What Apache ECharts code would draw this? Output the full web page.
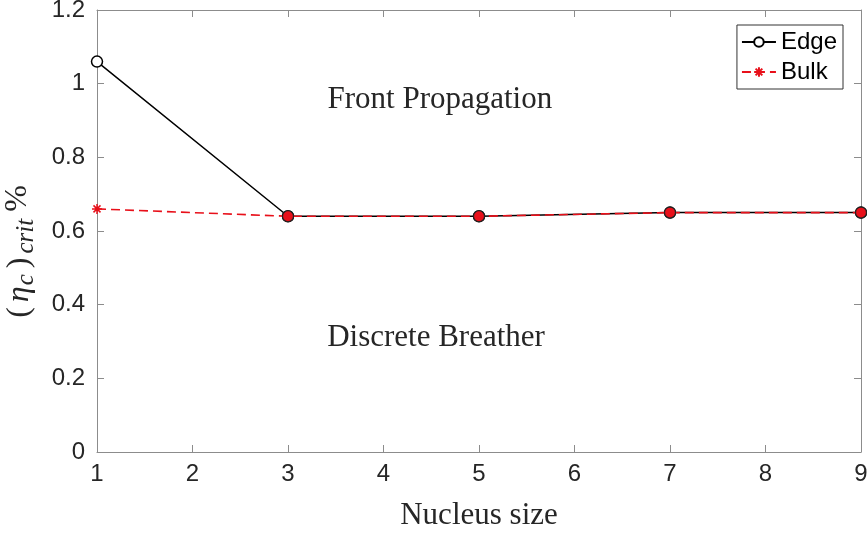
<!DOCTYPE html>
<html><head><meta charset="utf-8">
<script src="https://cdn.jsdelivr.net/npm/echarts@6/dist/echarts.min.js"></script>
<style>html,body{margin:0;padding:0;background:#fff}#c{width:867px;height:534px}</style>
</head><body><div id="c"></div>
<script>
const nucleusSize = [1, 3, 5, 7, 9];
const edgeValues = [1.06, 0.64, 0.64, 0.65, 0.65];
const bulkValues = [0.66, 0.64, 0.64, 0.65, 0.65];
const xTicks = [1, 2, 3, 4, 5, 6, 7, 8, 9];
const yTicks = [0, 0.2, 0.4, 0.6, 0.8, 1, 1.2];
const annotations = [
  {text: 'Front Propagation', x: 4.59, y: 0.955},
  {text: 'Discrete Breather', x: 4.55, y: 0.31}
];

const chart = echarts.init(document.getElementById('c'));
const axisCol = '#8c8c8c';
const labelCol = '#262626';
const serif = 'Liberation Serif, DejaVu Serif, serif';
const sans = 'Liberation Sans, Arial, sans-serif';
const asterisk = 'path://M0,-10L0,10M-10,0L10,0M-7,-7L7,7M-7,7L7,-7';

function xAxisBase(show) {
  return {
    type: 'value', min: xTicks[0], max: xTicks[xTicks.length-1], interval: 1,
    axisLine: {show: true, onZero: false, lineStyle: {color: axisCol, width: 1}},
    axisTick: {show: true, inside: true, length: 7, lineStyle: {color: axisCol}},
    axisLabel: {show: show, color: labelCol, fontFamily: sans, fontSize: 24, margin: 10},
    splitLine: {show: false}
  };
}
function yAxisBase(show) {
  return {
    type: 'value', min: yTicks[0], max: yTicks[yTicks.length-1], interval: 0.2,
    axisLine: {show: true, onZero: false, lineStyle: {color: axisCol, width: 1}},
    axisTick: {show: true, inside: true, length: 7, lineStyle: {color: axisCol}},
    axisLabel: {show: show, color: labelCol, fontFamily: sans, fontSize: 24, margin: 12,
      formatter: v => String(+v.toFixed(1))},
    splitLine: {show: false}
  };
}

const xMain = xAxisBase(true);
xMain.name = 'Nucleus size';
xMain.nameLocation = 'middle';
xMain.nameGap = 48;
xMain.nameTextStyle = {fontFamily: serif, fontSize: 31, color: labelCol};
const xTop = xAxisBase(false); xTop.position = 'top';

const yMain = yAxisBase(true);
yMain.name = '{a|(}{i|η}{s|c}{a|)}{s|crit}{p|%}';
yMain.nameLocation = 'middle';
yMain.nameGap = 58;
yMain.nameRotate = 90;
yMain.nameTextStyle = {
  color: labelCol,
  padding: [0, 44, 0, 0],
  rich: {
    a: {fontFamily: serif, fontSize: 32, color: labelCol, padding: [0, 3, 0, 3]},
    i: {fontFamily: serif, fontStyle: 'italic', fontSize: 32, color: labelCol, padding: [0, 0, 0, 2]},
    s: {fontFamily: serif, fontStyle: 'italic', fontSize: 25, color: labelCol, verticalAlign: 'bottom', padding: [14, 3, 0, 1]},
    p: {fontFamily: serif, fontSize: 32, color: labelCol, padding: [0, 0, 4, 4]}
  }
};
const yRight = yAxisBase(false); yRight.position = 'right';

const edgeData = nucleusSize.map((x, i) => [x, edgeValues[i]]);
const bulkData = nucleusSize.map((x, i) => {
  const d = {value: [x, bulkValues[i]]};
  if (i > 0) {
    d.symbol = 'circle';
    d.symbolSize = 11;
    d.itemStyle = {color: '#e8101a', borderColor: '#222', borderWidth: 1.2};
  }
  return d;
});

chart.setOption({
  animation: false,
  backgroundColor: '#fff',
  grid: {left: 97, right: 6, top: 10, bottom: 82, containLabel: false, outerBoundsMode: 'none'},
  xAxis: [xMain, xTop],
  yAxis: [yMain, yRight],
  legend: {
    orient: 'vertical', right: 24, top: 25,
    backgroundColor: '#fff', borderColor: '#333', borderWidth: 1,
    padding: [5, 6, 5, 4], itemGap: 6, itemWidth: 34, itemHeight: 12,
    textStyle: {fontFamily: sans, fontSize: 24, color: '#000'},
    data: ['Edge', 'Bulk']
  },
  series: [
    {
      name: 'Edge', type: 'line', data: edgeData,
      symbol: 'circle', symbolSize: 11, showSymbol: true,
      lineStyle: {color: '#000', width: 1.5},
      itemStyle: {color: '#fff', borderColor: '#000', borderWidth: 1.5},
      z: 2
    },
    {
      name: 'Bulk', type: 'line', data: bulkData,
      symbol: asterisk, symbolSize: 10, showSymbol: true,
      lineStyle: {color: '#e8101a', width: 1.6, type: [9, 5]},
      itemStyle: {color: '#e8101a', borderColor: '#e8101a', borderWidth: 1.5},
      z: 3
    }
  ]
});

const g = annotations.map(a => {
  const p = chart.convertToPixel({gridIndex: 0}, [a.x, a.y]);
  return {
    type: 'text', x: p[0], y: p[1],
    style: {text: a.text, fontFamily: serif, fontSize: 31, fill: labelCol,
      textAlign: 'center', textVerticalAlign: 'middle'}
  };
});
chart.setOption({graphic: g});
</script></body></html>
